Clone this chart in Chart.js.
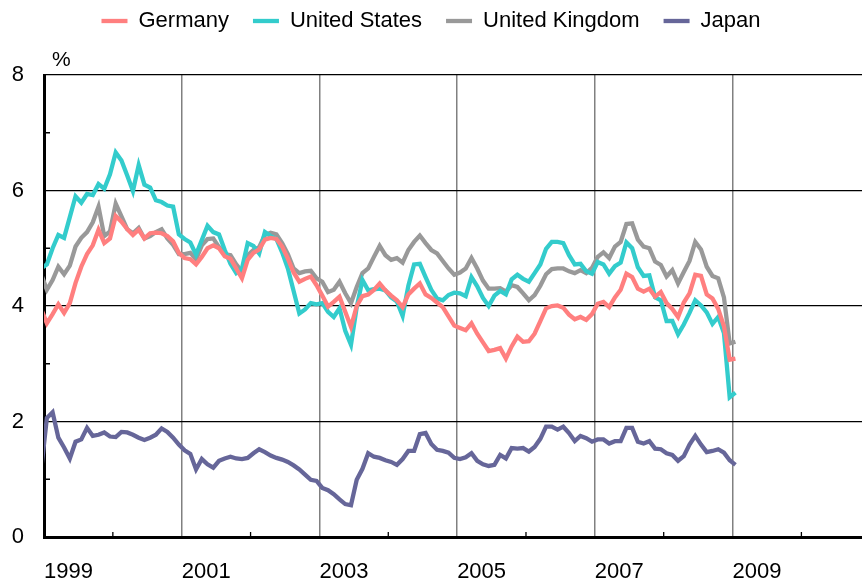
<!DOCTYPE html>
<html>
<head>
<meta charset="utf-8">
<title>10-year government bond yields</title>
<script src="https://cdn.jsdelivr.net/npm/chart.js@4.4.1/dist/chart.umd.min.js"></script>
<style>
  html, body { margin: 0; padding: 0; background: #fff; }
</style>
</head>
<body>
<canvas id="yields" width="862" height="587"></canvas>
<script>
// Monthly series, Dec 1998 .. Jan 2009 (first point sits just left of the axis and is clipped)
const startYear = 1998;
const startMonth = 12;

const germany = [
  3.95,
  3.70, 3.86, 4.03, 3.88, 4.05, 4.40, 4.68, 4.90, 5.05, 5.32, 5.09, 5.17,
  5.56, 5.46, 5.33, 5.23, 5.32, 5.17, 5.26, 5.27, 5.26, 5.21, 5.12, 4.92,
  4.83, 4.81, 4.72, 4.85, 5.00, 5.05, 5.00, 4.86, 4.82, 4.65, 4.48, 4.80,
  4.92, 4.98, 5.15, 5.18, 5.16, 5.03, 4.82, 4.58, 4.42, 4.47, 4.51, 4.36,
  4.18, 3.99, 4.07, 4.16, 3.90, 3.64, 4.00, 4.17, 4.20, 4.28, 4.39, 4.27,
  4.18, 4.10, 3.98, 4.20, 4.30, 4.39, 4.20, 4.14, 4.06, 3.98, 3.82, 3.66,
  3.62, 3.58, 3.70, 3.52, 3.37, 3.22, 3.24, 3.27, 3.09, 3.30, 3.47, 3.38,
  3.39, 3.52, 3.74, 3.96, 4.00, 4.01, 3.97, 3.85, 3.77, 3.81, 3.76, 3.86,
  4.04, 4.07, 3.98, 4.15, 4.28, 4.56, 4.50, 4.30, 4.25, 4.30, 4.16, 4.24,
  4.05, 3.95, 3.81, 4.06, 4.22, 4.54, 4.52, 4.20, 4.13, 3.95, 3.65, 3.07,
  3.09
];

const unitedStates = [
  4.65,
  4.72, 5.00, 5.23, 5.18, 5.54, 5.90, 5.79, 5.94, 5.92, 6.11, 6.03, 6.28,
  6.66, 6.52, 6.26, 5.99, 6.44, 6.10, 6.05, 5.83, 5.80, 5.74, 5.72, 5.24,
  5.16, 5.10, 4.89, 5.14, 5.39, 5.28, 5.24, 4.97, 4.73, 4.57, 4.65, 5.09,
  5.04, 4.91, 5.28, 5.21, 5.16, 4.93, 4.65, 4.26, 3.87, 3.94, 4.05, 4.03,
  4.05, 3.90, 3.81, 3.96, 3.57, 3.33, 3.98, 4.45, 4.27, 4.29, 4.30, 4.27,
  4.15, 4.08, 3.83, 4.35, 4.72, 4.73, 4.50, 4.28, 4.13, 4.10, 4.19, 4.23,
  4.22, 4.17, 4.50, 4.34, 4.14, 4.00, 4.18, 4.26, 4.20, 4.46, 4.54, 4.47,
  4.42, 4.57, 4.72, 4.99, 5.11, 5.11, 5.09, 4.88, 4.72, 4.73, 4.60, 4.56,
  4.76, 4.72, 4.56, 4.69, 4.75, 5.10, 5.00, 4.67, 4.52, 4.53, 4.15, 4.10,
  3.74, 3.74, 3.51, 3.68, 3.88, 4.10, 4.01, 3.89, 3.69, 3.81, 3.53, 2.42,
  2.50
];

const unitedKingdom = [
  4.55,
  4.28, 4.45, 4.68, 4.55, 4.70, 5.03, 5.18, 5.28, 5.45, 5.72, 5.21, 5.29,
  5.77, 5.55, 5.33, 5.26, 5.35, 5.17, 5.21, 5.28, 5.33, 5.17, 5.06, 4.90,
  4.90, 4.92, 4.81, 5.05, 5.16, 5.17, 5.02, 4.90, 4.88, 4.72, 4.59, 4.88,
  4.97, 5.02, 5.23, 5.27, 5.24, 5.09, 4.90, 4.65, 4.57, 4.60, 4.61, 4.48,
  4.42, 4.24, 4.28, 4.42, 4.22, 4.05, 4.33, 4.57, 4.65, 4.85, 5.04, 4.88,
  4.80, 4.83, 4.75, 4.97, 5.11, 5.22, 5.09, 4.97, 4.91, 4.78, 4.65, 4.54,
  4.58, 4.65, 4.83, 4.65, 4.44, 4.30, 4.30, 4.31, 4.25, 4.36, 4.33, 4.22,
  4.10, 4.19, 4.35, 4.55, 4.64, 4.65, 4.65, 4.60, 4.57, 4.62, 4.57, 4.66,
  4.85, 4.93, 4.83, 5.03, 5.11, 5.42, 5.43, 5.15, 5.03, 5.00, 4.77, 4.71,
  4.51, 4.62, 4.39, 4.59, 4.78, 5.11, 4.98, 4.68, 4.52, 4.48, 4.15, 3.35,
  3.38
];

const japan = [
  1.15,
  2.06, 2.16, 1.72, 1.55, 1.36, 1.65, 1.69, 1.89, 1.75, 1.77, 1.81, 1.74,
  1.73, 1.82, 1.81, 1.77, 1.72, 1.68, 1.72, 1.77, 1.88, 1.82, 1.72, 1.60,
  1.50, 1.44, 1.17, 1.35, 1.26, 1.20, 1.32, 1.36, 1.39, 1.36, 1.35, 1.37,
  1.45, 1.52, 1.47, 1.41, 1.37, 1.34, 1.30, 1.24, 1.17, 1.08, 0.99, 0.97,
  0.85, 0.81, 0.74, 0.65, 0.57, 0.55, 0.99, 1.18, 1.45, 1.39, 1.37, 1.33,
  1.30, 1.25, 1.35, 1.49, 1.49, 1.78, 1.80, 1.61, 1.51, 1.49, 1.46, 1.37,
  1.35, 1.38, 1.45, 1.32, 1.26, 1.23, 1.25, 1.42, 1.36, 1.54, 1.53, 1.54,
  1.48, 1.56, 1.70, 1.91, 1.91, 1.86, 1.91, 1.80, 1.66, 1.75, 1.71, 1.65,
  1.69, 1.69, 1.62, 1.66, 1.66, 1.89, 1.89, 1.65, 1.62, 1.66, 1.53, 1.52,
  1.45, 1.42, 1.32, 1.40, 1.60, 1.75, 1.60, 1.47, 1.49, 1.52, 1.46, 1.33,
  1.25
];

const seriesNames = ['Germany', 'United States', 'United Kingdom', 'Japan'];
const seriesColors = ['#ff7f7f', '#33cccc', '#999999', '#666699'];
const yearLabels = [1999, 2001, 2003, 2005, 2007, 2009];
const yMinor = [1, 3, 5, 7];
const xMinor = [2000, 2002, 2004, 2006, 2008, 2010];

// month i -> decimal year at mid-month
function toPoints(values) {
  return values.map((v, i) => ({ x: startYear + (startMonth - 1 + i + 0.5) / 12, y: v }));
}

const FONT = "'Liberation Sans', Arial, sans-serif";
Chart.defaults.font.family = FONT;
Chart.defaults.font.size = 22;
Chart.defaults.color = '#000';

// legend starts above the canvas edge (negative top padding), so stretch it down to the plot top
const legendRoom = {
  id: 'legendRoom',
  beforeInit(chart) {
    const fit = chart.legend.fit;
    chart.legend.fit = function () {
      fit.call(this);
      this.height = 89;
    };
  }
};

// inner minor ticks and the "%" unit label
const extras = {
  id: 'extras',
  beforeDatasetsDraw(chart) {
    const { ctx, chartArea: a, scales: { x, y } } = chart;
    ctx.save();
    ctx.strokeStyle = '#000';
    ctx.lineWidth = 1.3;
    ctx.beginPath();
    yMinor.forEach(v => {
      const p = y.getPixelForValue(v);
      ctx.moveTo(a.left, p);
      ctx.lineTo(a.left + 6, p);
    });
    xMinor.forEach(v => {
      const p = x.getPixelForValue(v);
      ctx.moveTo(p, a.bottom);
      ctx.lineTo(p, a.bottom - 5);
    });
    ctx.stroke();
    ctx.fillStyle = '#000';
    ctx.font = '21px ' + FONT;
    ctx.textBaseline = 'middle';
    ctx.textAlign = 'left';
    ctx.fillText('%', a.left + 8, a.top - 15);
    ctx.restore();
  }
};

const allSeries = [germany, unitedStates, unitedKingdom, japan];

new Chart(document.getElementById('yields'), {
  type: 'line',
  data: {
    datasets: allSeries.map((vals, k) => ({
      label: seriesNames[k],
      data: toPoints(vals),
      borderColor: seriesColors[k],
      backgroundColor: seriesColors[k],
      borderWidth: 4.3,
      pointRadius: 0,
      tension: 0,
      clip: 0
    }))
  },
  options: {
    responsive: false,
    animation: false,
    devicePixelRatio: 1,
    layout: { padding: { left: 0, right: 0, top: -14, bottom: 2 } },
    plugins: {
      tooltip: { enabled: false },
      legend: {
        position: 'top',
        labels: {
          usePointStyle: true,
          pointStyle: 'line',
          pointStyleWidth: 26,
          padding: 24,
          font: { size: 22 },
          color: '#000'
        }
      }
    },
    scales: {
      x: {
        type: 'linear',
        min: 1999,
        max: 2010.88,
        afterFit: s => { s.height = 48; },
        ticks: {
          stepSize: 1,
          autoSkip: false,
          includeBounds: false,
          maxRotation: 0,
          align: 'start',
          padding: 22,
          callback: v => (yearLabels.includes(v) ? String(v) : '')
        },
        grid: {
          drawTicks: false,
          lineWidth: 1.5,
          color: c => (yearLabels.includes(c.tick.value) && c.tick.value > 1999 ? '#808080' : 'rgba(0,0,0,0)')
        },
        border: { color: '#000', width: 3 }
      },
      y: {
        min: 0,
        max: 8,
        afterFit: s => { s.width = 44; },
        ticks: {
          stepSize: 1,
          padding: 20,
          callback: v => (v % 2 === 0 ? String(v) : '')
        },
        grid: {
          drawTicks: false,
          lineWidth: 1.2,
          color: c => (c.tick.value % 2 === 0 && c.tick.value > 0 ? '#000' : 'rgba(0,0,0,0)')
        },
        border: { color: '#000', width: 3 }
      }
    }
  },
  plugins: [legendRoom, extras]
});
</script>
</body>
</html>
